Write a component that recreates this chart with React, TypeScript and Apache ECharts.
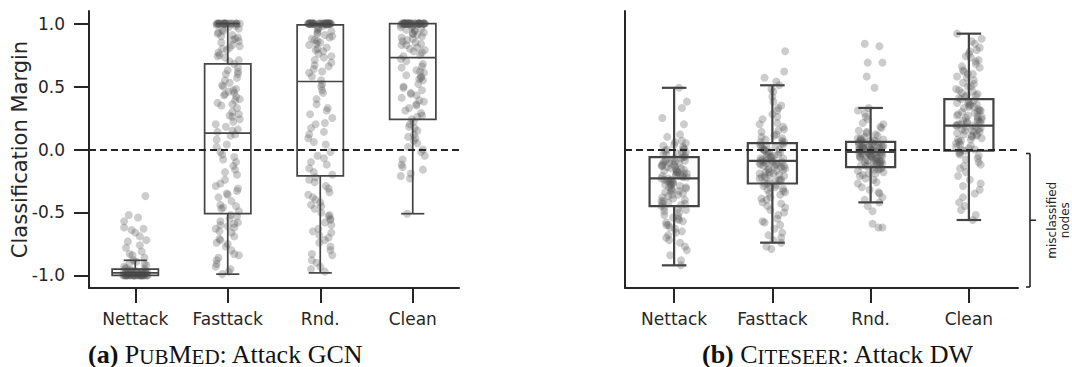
import React, { useEffect, useRef } from "react";
import * as echarts from "echarts";

const CATEGORIES = ["Nettack", "Fasttack", "Rnd.", "Clean"];
const Y_TICKS = [-1.0, -0.5, 0.0, 0.5, 1.0];
const X_TICKS = [0, 1, 2, 3];

// [lower whisker, Q1, median, Q3, upper whisker]
const PUBMED_BOX = [
  [-1.0, -1.0, -0.98, -0.95, -0.88],
  [-0.99, -0.51, 0.13, 0.68, 1.0],
  [-0.98, -0.21, 0.54, 0.99, 1.0],
  [-0.51, 0.24, 0.73, 1.0, 1.0],
];
const CITESEER_BOX = [
  [-0.92, -0.45, -0.23, -0.06, 0.49],
  [-0.74, -0.27, -0.09, 0.05, 0.51],
  [-0.42, -0.14, -0.02, 0.06, 0.33],
  [-0.56, -0.01, 0.19, 0.4, 0.92],
];

// horizontal strip-plot offsets (category units)
const JITTER = [
  -0.12, 0.05, -0.03, 0.11, -0.08, 0.02, 0.09, -0.11, 0.07, -0.05, 0.13, -0.01, -0.09, 0.04, 0.1, -0.06,
  0.01, -0.13, 0.08, -0.02, 0.12, -0.1, 0.03, -0.07, 0.06, -0.04, 0.0, 0.11, -0.12, 0.09, -0.08, 0.05,
  -0.03, 0.12, -0.1, 0.02, 0.07, -0.05, 0.1, -0.01, -0.11, 0.04, 0.13, -0.06, 0.08, -0.09, 0.01, -0.13,
  0.06, -0.02, 0.11, -0.07, 0.03, -0.12, 0.09, -0.04, 0.0, 0.12, -0.08, 0.05, -0.1, 0.07, -0.03, 0.1, -0.06,
];

const PUBMED_NETTACK = [
  -1.0, -0.99, -1.0, -0.98, -1.0, -0.97, -1.0, -0.99, -1.0, -0.96, -1.0, -0.98, -1.0, -0.99, -0.95, -1.0,
  -0.97, -1.0, -0.99, -1.0, -0.98, -0.94, -1.0, -0.99, -1.0, -0.96, -1.0, -0.98, -0.93, -1.0, -0.99, -1.0,
  -0.97, -0.92, -1.0, -0.99, -1.0, -0.98, -0.91, -1.0, -0.95, -0.99, -1.0, -0.9, -0.97, -1.0, -0.89, -0.98,
  -1.0, -0.88, -0.37, -0.52, -0.54, -0.57, -0.63, -0.64, -0.66, -0.72, -0.73, -0.76, -0.78, -0.81, -0.84,
  -0.86, -0.83, -0.62, -0.69, -0.99, -1.0, -0.96, -1.0, -0.99, -1.0, -0.98, -1.0, -0.97, -1.0, -0.99,
];
const PUBMED_FASTTACK = [
  1.0, 0.87, 1.0, 0.62, 1.0, -0.55, 0.98, 1.0, 0.45, -0.08, 1.0, 0.79, -0.71, 1.0, 0.33, 0.95, 1.0, -0.93,
  0.12, 1.0, 0.71, -0.38, 1.0, 0.9, 0.47, 1.0, -0.61, 0.16, 0.99, 1.0, -0.27, 0.83, 0.55, -0.84, 1.0, 0.27,
  0.68, -0.46, 1.0, 0.04, 0.92, -0.66, 0.4, 1.0, -0.16, 0.75, -0.97, 0.2, 1.0, 0.6, -0.31, 0.85, -0.52, 0.08,
  1.0, 0.43, -0.75, 0.96, -0.02, 0.3, 1.0, -0.59, 0.73, -0.2, 0.51, -0.88, 0.15, 1.0, 0.65, -0.44, 0.81,
  -0.1, 0.37, -0.69, 0.94, 0.24, -0.35, 1.0, -0.8, 0.57, -0.04, 0.46, -0.63, 0.88, 0.18, -0.49, 0.77, -0.95,
  0.35, -0.13, 1.0, 0.63, -0.58, 0.02, 0.42, -0.72, 0.91, -0.24, 0.28, -0.86, 0.7, -0.06, 0.5, -0.53, 1.0,
  0.14, -0.41, 0.82, -0.99, 0.39, -0.65, 0.97, -0.29, 0.22, -0.77, 0.6, -0.47, 0.11, -0.91, 0.48, 1.0, -0.36,
  0.86, -0.57, 0.26, 0.93, -0.62, 0.44, -0.33, 0.8, -0.74, 0.36, -0.18, 0.89, -0.6, 0.53, -0.45, 0.74, -0.83,
];
const PUBMED_RND = [
  1.0, 1.0, 0.93, -0.55, 1.0, 0.62, -0.31, 1.0, 0.99, 0.2, -0.84, 1.0, 0.88, -0.07, 1.0, 0.71, -0.45, 1.0,
  0.33, 0.97, -0.66, 1.0, 0.45, -0.18, 1.0, 0.84, -0.93, 1.0, 0.12, 0.66, -0.38, 1.0, 0.95, -0.6, 1.0, 0.52,
  -0.12, 0.79, 1.0, -0.74, 0.28, 1.0, 0.9, -0.26, 1.0, 0.58, -0.5, 1.0, 0.04, 0.76, -0.8, 1.0, 0.98, -0.15,
  1.0, 0.36, -0.42, 0.69, 1.0, -0.97, 0.17, 1.0, 0.86, -0.34, 1.0, 0.61, -0.58, 0.92, -0.02, 1.0, 0.47, -0.7,
  1.0, 0.81, -0.22, 0.25, 1.0, -0.88, 0.73, 1.0, -0.47, 0.55, 0.09, 1.0, -0.63, 0.94, -0.1, 1.0, 0.64, -0.29,
  0.4, 1.0, -0.77, 0.83, -0.53, 1.0, 0.21, -0.05, 0.74, -0.95, 1.0, 0.31, -0.4, 0.89, -0.68, 1.0, 0.14, -0.2,
  0.67, 1.0, -0.83, 0.5, -0.36, 1.0, 0.96, -0.56, 0.06, 0.78, -0.24, 1.0, -0.9, 0.85, 1.0, -0.65, 0.91, -0.44,
  1.0, 0.8, -0.52, 0.87, 1.0, -0.72,
];
const PUBMED_CLEAN = [
  1.0, 0.91, 1.0, 0.55, 1.0, 0.17, 0.84, 1.0, 0.39, 1.0, -0.05, 0.97, 1.0, 0.63, 0.27, 1.0, 0.78, -0.21, 1.0,
  0.44, 0.93, 1.0, 0.09, 0.7, 1.0, 0.33, 0.88, 1.0, -0.12, 0.58, 1.0, 0.81, 0.2, 1.0, 0.49, 0.95, 1.0, 0.02,
  0.66, 1.0, 0.86, 0.36, 1.0, -0.51, 0.75, 1.0, 0.12, 0.99, 0.52, 1.0, -0.16, 0.83, 1.0, 0.41, 0.29, 1.0,
  0.92, 0.61, 1.0, 0.05, 0.74, 1.0, -0.23, 0.47, 1.0, 0.89, 0.15, 1.0, 0.68, 0.31, 1.0, 0.96, -0.08, 0.56,
  1.0, 0.79, 0.24, 1.0, 0.43, 0.9, 1.0, 0.07, 0.72, 1.0, -0.19, 0.38, 1.0, 0.85, 0.59, 1.0, 0.18, 0.98, 1.0,
  0.65, -0.02, 1.0, 0.26, 0.8, 1.0, 0.5, 0.94, 1.0, 0.1, 0.77, 1.0, -0.14, 0.35, 1.0, 0.87, 0.62, 1.0, 0.22,
  0.97, 1.0, 0.45, 0.0, 0.95, 1.0, 0.83, 0.57, 1.0, 0.92,
];

const CITESEER_NETTACK = [
  -0.12, 0.49, -0.31, -0.05, -0.58, -0.2, 0.02, -0.41, -0.15, -0.72, 0.38, -0.27, -0.09, -0.47, 0.0, -0.23,
  -0.63, -0.13, 0.33, -0.36, -0.02, -0.52, -0.18, 0.1, -0.29, -0.84, -0.07, -0.43, 0.25, -0.21, -0.6, -0.11,
  -0.33, 0.05, -0.49, -0.16, -0.92, -0.25, 0.2, -0.39, -0.04, -0.55, -0.19, -0.68, 0.07, -0.34, -0.1, -0.45,
  0.12, -0.26, -0.77, -0.14, -0.03, -0.38, -0.22, -0.62, 0.04, -0.3, -0.08, -0.5, -0.17, -0.88, -0.24, 0.01,
  -0.42, -0.13, -0.56, -0.28, -0.06, -0.7, -0.2, -0.35, 0.03, -0.44, -0.11, -0.8, -0.26, -0.01, -0.53, -0.16,
  -0.37, 0.06, -0.23, -0.65, -0.09, -0.31, -0.46, -0.18, 0.0, -0.74, -0.27, -0.12, -0.4, -0.21, -0.57, -0.04,
  -0.33, -0.15, -0.48, -0.24, -0.66, -0.07, -0.3, -0.19, -0.54, -0.1, -0.36, -0.22, -0.6, -0.02, -0.28,
  -0.14, -0.41, -0.2, -0.32, -0.09, -0.25, -0.17, -0.43, -0.06,
];
const CITESEER_FASTTACK = [
  -0.09, 0.21, -0.35, 0.04, -0.58, -0.14, 0.35, -0.22, 0.0, -0.45, 0.78, -0.06, -0.29, 0.12, -0.66, -0.11,
  0.46, -0.19, -0.02, -0.38, 0.62, -0.08, -0.25, 0.08, -0.52, -0.15, 0.28, -0.31, 0.03, -0.7, 0.57, -0.12,
  -0.2, 0.16, -0.42, -0.05, 0.51, -0.27, -0.1, -0.79, 0.1, -0.17, -0.34, 0.02, -0.6, -0.13, 0.38, -0.23,
  -0.04, -0.48, 0.18, -0.09, -0.3, 0.06, -0.74, -0.16, 0.42, -0.21, -0.01, -0.55, 0.24, -0.11, -0.26, 0.05,
  -0.4, -0.07, 0.31, -0.18, -0.33, 0.0, -0.63, -0.14, 0.14, -0.24, -0.03, -0.46, 0.48, -0.1, -0.28, 0.09,
  -0.77, -0.19, 0.2, -0.36, -0.06, -0.5, 0.01, -0.12, -0.22, 0.33, -0.68, -0.08, -0.16, 0.04, -0.43, -0.27,
  0.26, -0.02, -0.13, -0.57, 0.11, -0.2, -0.32, 0.07, -0.09, -0.39, 0.54, -0.15, -0.05, -0.25, 0.0, -0.72,
  -0.11, 0.15, -0.3, -0.07, -0.18, 0.02, -0.12, -0.24, -0.04, -0.1, 0.06, -0.21,
];
const CITESEER_RND = [
  -0.02, 0.12, -0.09, 0.03, -0.2, 0.0, 0.82, -0.05, 0.06, -0.13, 0.2, -0.03, -0.3, 0.04, -0.1, 0.84, -0.01,
  0.09, -0.16, 0.02, 0.69, -0.07, -0.24, 0.05, -0.12, 0.58, 0.0, -0.04, 0.15, -0.35, 0.01, -0.08, 0.69,
  -0.11, 0.07, -0.59, -0.02, 0.26, -0.15, 0.03, -0.06, 0.49, -0.18, 0.1, -0.62, -0.03, 0.04, -0.27, -0.01,
  0.33, -0.09, 0.06, -0.14, 0.0, -0.42, 0.13, -0.05, -0.62, 0.02, -0.19, 0.08, -0.1, 0.24, -0.02, -0.4, 0.05,
  -0.07, -0.13, 0.17, -0.04, -0.49, 0.01, -0.21, 0.11, -0.08, 0.03, -0.32, -0.01, 0.07, -0.12, 0.29, -0.06,
  -0.17, 0.04, -0.03, -0.38, 0.09, -0.11, 0.0, -0.26, 0.14, -0.05, -0.15, 0.06, -0.09, 0.21, -0.02, -0.45,
  0.02, -0.13, 0.05, -0.07, -0.23, 0.18, -0.04, 0.0, -0.16, 0.08, -0.1, -0.34, 0.03, -0.01, 0.31, -0.06,
  -0.19, -0.03, 0.01, -0.08, 0.04, -0.11, -0.02, 0.07, -0.05,
];
const CITESEER_CLEAN = [
  0.19, 0.52, -0.08, 0.31, 0.07, 0.73, 0.23, -0.21, 0.43, 0.12, 0.88, 0.27, -0.02, 0.6, 0.16, -0.38, 0.35,
  0.05, 0.79, 0.21, -0.12, 0.47, 0.1, 0.66, 0.29, -0.45, 0.38, 0.14, 0.92, 0.24, 0.0, 0.55, 0.18, -0.27,
  0.41, 0.08, 0.7, 0.33, -0.05, 0.5, 0.2, -0.56, 0.26, 0.63, 0.11, -0.15, 0.36, 0.02, 0.84, 0.22, -0.32,
  0.45, 0.15, 0.58, 0.3, -0.01, 0.76, 0.17, -0.48, 0.39, 0.06, 0.68, 0.25, -0.1, 0.53, 0.13, 0.34, -0.18,
  0.81, 0.2, 0.03, 0.44, 0.28, -0.52, 0.62, 0.09, 0.37, -0.04, 0.19, 0.71, 0.23, -0.24, 0.48, 0.12, 0.57,
  0.31, -0.03, 0.86, 0.16, -0.35, 0.42, 0.01, 0.65, 0.27, -0.07, 0.4, 0.14, 0.74, 0.21, -0.42, 0.5, 0.18,
  -0.13, 0.32, 0.6, 0.08, 0.46, 0.24, -0.29, 0.36, 0.04, 0.78, 0.19, 0.0, 0.43, 0.22, 0.3, 0.11, 0.37, 0.26,
  0.15, 0.34,
];

const PUBMED_POINTS = [PUBMED_NETTACK, PUBMED_FASTTACK, PUBMED_RND, PUBMED_CLEAN];
const CITESEER_POINTS = [CITESEER_NETTACK, CITESEER_FASTTACK, CITESEER_RND, CITESEER_CLEAN];

const GRID_L = { left: 89, top: 11, width: 370, height: 277 };
const GRID_R = { left: 625, top: 11, width: 393, height: 277 };

const INK = "#262626";
const BOX = "#444444";
const SANS = "DejaVu Sans";
const SERIF = "Liberation Serif";

function stripData(groups: number[][]) {
  const out: number[][] = [];
  groups.forEach((vals, ci) => {
    vals.forEach((v, k) => out.push([ci + JITTER[k % JITTER.length], v]));
  });
  return out;
}

function scatterSeries(idx: number, groups: number[][]) {
  return {
    type: "scatter",
    xAxisIndex: idx,
    yAxisIndex: idx,
    data: stripData(groups),
    symbol: "circle",
    symbolSize: 8,
    itemStyle: { color: "#555555", opacity: 0.3 },
    z: 2,
    silent: true,
    markLine: {
      silent: true,
      symbol: ["none", "none"],
      label: { show: false },
      lineStyle: { color: INK, width: 2, type: [7, 4] },
      data: [{ yAxis: 0 }],
      z: 4,
    },
  };
}

function boxSeries(idx: number, stats: number[][], lw: number) {
  return {
    type: "custom",
    xAxisIndex: idx,
    yAxisIndex: idx,
    z: 3,
    silent: true,
    data: stats.map((s, i) => [i, ...s]),
    encode: { x: 0, y: [1, 2, 3, 4, 5] },
    renderItem: (params: any, api: any) => {
      const i = api.value(0);
      const lo = api.coord([i, api.value(1)]);
      const q1 = api.coord([i, api.value(2)]);
      const med = api.coord([i, api.value(3)]);
      const q3 = api.coord([i, api.value(4)]);
      const hi = api.coord([i, api.value(5)]);
      const band = api.size([1, 0])[0];
      const hw = band * 0.25;
      const cw = band * 0.125;
      const x = lo[0];
      const st = { stroke: BOX, lineWidth: lw, fill: "none" };
      const line = (x1: number, y1: number, x2: number, y2: number) => ({
        type: "line",
        shape: { x1, y1, x2, y2 },
        style: st,
      });
      return {
        type: "group",
        children: [
          line(x, q3[1], x, hi[1]),
          line(x, q1[1], x, lo[1]),
          line(x - cw, hi[1], x + cw, hi[1]),
          line(x - cw, lo[1], x + cw, lo[1]),
          {
            type: "rect",
            shape: { x: x - hw, y: q3[1], width: 2 * hw, height: q1[1] - q3[1] },
            style: { stroke: BOX, lineWidth: lw, fill: "rgba(0,0,0,0)" },
          },
          line(x - hw, med[1], x + hw, med[1]),
        ],
      };
    },
  };
}

function xAxis(idx: number) {
  return {
    gridIndex: idx,
    type: "value",
    min: -0.5,
    max: 3.5,
    splitLine: { show: false },
    axisLine: { show: true, onZero: false, lineStyle: { color: INK, width: 2 } },
    axisTick: { show: true, customValues: X_TICKS, length: 15, lineStyle: { color: INK, width: 2 } },
    axisLabel: {
      show: true,
      customValues: X_TICKS,
      formatter: (v: number) => CATEGORIES[Math.round(v)],
      margin: 22,
      fontSize: 17,
      fontFamily: SANS,
      color: INK,
    },
  };
}

function caption(x: number, label: string, big1: string, small1: string, big2: string, small2: string, rest: string) {
  const parts = [`{b|${label} }`, `{r|${big1}}`, `{s|${small1}}`];
  if (big2) parts.push(`{r|${big2}}`);
  if (small2) parts.push(`{s|${small2}}`);
  parts.push(`{r|${rest}}`);
  const big = 26;
  const small = 21;
  return {
    type: "text",
    x,
    y: 354,
    style: {
      text: parts.join(""),
      verticalAlign: "middle",
      fill: "#111",
      rich: {
        b: { fontFamily: SERIF, fontSize: big, fontWeight: "bold", fill: "#111", lineHeight: big, verticalAlign: "bottom" },
        r: { fontFamily: SERIF, fontSize: big, fill: "#111", lineHeight: big, verticalAlign: "bottom" },
        s: { fontFamily: SERIF, fontSize: small, fill: "#111", lineHeight: small, verticalAlign: "bottom" },
      },
    },
  };
}

export default function App() {
  const ref = useRef<HTMLDivElement>(null);
  useEffect(() => {
    if (!ref.current) return;
    const chart = echarts.init(ref.current, undefined, { renderer: "svg" });
    const option: any = {
      animation: false,
      backgroundColor: "#ffffff",
      grid: [
        { ...GRID_L, containLabel: false },
        { ...GRID_R, containLabel: false },
      ],
      xAxis: [xAxis(0), xAxis(1)],
      yAxis: [
        {
          gridIndex: 0,
          type: "value",
          min: -1.1,
          max: 1.1,
          splitLine: { show: false },
          axisLine: { show: true, onZero: false, lineStyle: { color: INK, width: 2 } },
          axisTick: { show: true, customValues: Y_TICKS, length: 15, lineStyle: { color: INK, width: 2 } },
          axisLabel: {
            show: true,
            customValues: Y_TICKS,
            formatter: (v: number) => v.toFixed(1),
            margin: 24,
            fontSize: 17,
            fontFamily: SANS,
            color: INK,
          },
        },
        {
          gridIndex: 1,
          type: "value",
          min: -1.1,
          max: 1.1,
          splitLine: { show: false },
          axisLine: { show: true, onZero: false, lineStyle: { color: INK, width: 2 } },
          axisTick: { show: false },
          axisLabel: { show: false },
        },
      ],
      series: [
        scatterSeries(0, PUBMED_POINTS),
        boxSeries(0, PUBMED_BOX, 1.7),
        scatterSeries(1, CITESEER_POINTS),
        boxSeries(1, CITESEER_BOX, 2.2),
      ],
    };
    chart.setOption(option);

    const y0 = chart.convertToPixel({ yAxisIndex: 1 }, 0) as number;
    const bx = GRID_R.left + GRID_R.width + 12;
    const bTop = y0 + 4;
    const bBot = GRID_R.top + GRID_R.height - 1;
    const bMid = (bTop + bBot) / 2;
    const bst = { stroke: INK, lineWidth: 1.6 };

    chart.setOption({
      graphic: [
        {
          type: "text",
          x: 19.5,
          y: GRID_L.top + GRID_L.height / 2,
          rotation: Math.PI / 2,
          style: {
            text: "Classification Margin",
            fontSize: 21,
            fontFamily: SANS,
            fill: INK,
            align: "center",
            verticalAlign: "middle",
          },
        },
        caption(88, "(a)", "P", "UB", "M", "ED", ": Attack GCN"),
        caption(702, "(b)", "C", "ITESEER", "", "", ": Attack DW"),
        { type: "line", shape: { x1: bx - 4, y1: bTop, x2: bx, y2: bTop }, style: bst },
        { type: "line", shape: { x1: bx, y1: bTop, x2: bx, y2: bBot }, style: bst },
        { type: "line", shape: { x1: bx - 4, y1: bBot, x2: bx, y2: bBot }, style: bst },
        { type: "line", shape: { x1: bx, y1: bMid, x2: bx + 6, y2: bMid }, style: bst },
        {
          type: "text",
          x: 1058,
          y: bMid,
          rotation: Math.PI / 2,
          style: {
            text: "misclassified\nnodes",
            fontSize: 12,
            lineHeight: 13,
            fontFamily: SANS,
            fill: INK,
            align: "center",
            verticalAlign: "middle",
          },
        },
      ],
    });
    return () => chart.dispose();
  }, []);
  return (
    <div
      ref={ref}
      style={{ position: "absolute", left: 0, top: 0, width: 1072, height: 367, background: "#fff" }}
    />
  );
}
